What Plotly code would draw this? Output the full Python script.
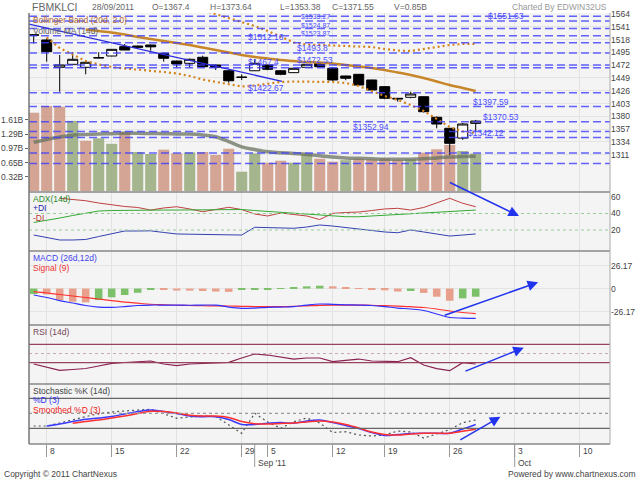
import plotly.graph_objects as go

# ---------------- data ----------------
days = list(range(35))
opens = [1526.5, 1517.3, 1468.2, 1473.6, 1468.2, 1485.0, 1488.5, 1505.3, 1506.5, 1508.3,
         1493.4, 1479.5, 1475.4, 1486.2, 1472.4, 1462.0, 1450.0, 1462.0, 1472.4, 1462.0,
         1458.6, 1468.2, 1475.4, 1466.4, 1452.6, 1455.6, 1445.4, 1433.4, 1412.5, 1414.3,
         1415.4, 1378.4, 1358.6, 1341.0, 1367.4]
highs = [1527.0, 1520.3, 1490.3, 1495.2, 1481.3, 1495.2, 1501.0, 1510.0, 1507.0, 1509.0,
         1494.0, 1480.0, 1484.0, 1489.0, 1473.0, 1463.0, 1455.6, 1482.6, 1473.0, 1463.0,
         1467.0, 1474.0, 1476.0, 1468.0, 1453.0, 1456.0, 1446.0, 1434.0, 1413.0, 1424.4,
         1416.0, 1380.0, 1359.0, 1368.0, 1373.64]
lows = [1511.0, 1478.3, 1424.4, 1473.0, 1455.6, 1484.5, 1488.0, 1499.0, 1503.5, 1498.0,
        1478.3, 1468.2, 1468.2, 1468.0, 1463.4, 1440.5, 1445.4, 1461.5, 1463.0, 1454.0,
        1458.0, 1467.5, 1469.0, 1444.0, 1445.0, 1435.0, 1424.4, 1411.0, 1406.4, 1412.5,
        1387.0, 1358.6, 1310.6, 1338.0, 1353.38]
closes = [1526.0, 1496.3, 1472.4, 1482.6, 1477.2, 1485.5, 1500.5, 1499.3, 1504.2, 1505.0,
          1484.4, 1474.2, 1482.6, 1469.3, 1468.2, 1444.0, 1450.5, 1475.4, 1464.6, 1455.6,
          1466.4, 1473.6, 1469.3, 1445.4, 1448.5, 1436.4, 1427.4, 1412.5, 1411.5, 1420.2,
          1388.4, 1366.3, 1331.6, 1366.3, 1371.55]
volume_b = [1.775, 1.93, 1.91, 1.59, 1.14, 1.195, 1.07, 1.34, 0.884, 0.839,
            0.937, 0.855, 0.877, 0.884, 0.816, 0.959, 0.438, 0.855, 0.642, 0.687,
            0.642, 0.839, 0.732, 0.665, 0.70, 0.73, 0.72, 0.74, 0.71, 0.72,
            0.869, 0.946, 1.043, 0.907, 0.85]
vol_ma_b = [1.104, 1.168, 1.224, 1.263, 1.281, 1.293, 1.299, 1.308, 1.308, 1.304,
            1.299, 1.293, 1.29, 1.27, 1.23, 1.12, 1.0, 0.94, 0.89, 0.87,
            0.85, 0.83, 0.80, 0.77, 0.75, 0.74, 0.73, 0.72, 0.72, 0.72,
            0.73, 0.75, 0.77, 0.78, 0.79]

bb_mid_days = list(range(4, 35))
bb_mid = [1536.1, 1533.5, 1530.8, 1527.2, 1522.7, 1519.1, 1515.5, 1511.9, 1508.3, 1503.8,
          1499.3, 1494.8, 1490.3, 1486.7, 1484.0, 1481.3, 1479.5, 1477.7, 1476.8, 1475.0,
          1472.4, 1469.7, 1467.0, 1463.4, 1458.9, 1454.4, 1449.0, 1442.7, 1436.4, 1431.0, 1425.6]
bb_up_days = list(range(12, 35))
bb_up = [1578.0, 1571.0, 1564.0, 1557.7, 1550.5, 1542.4, 1533.5, 1522.7, 1512.8, 1509.2,
         1508.3, 1508.3, 1507.4, 1506.5, 1504.7, 1501.1, 1498.4, 1497.5, 1501.1, 1505.6,
         1508.3, 1510.1, 1510.1]
bb_lo_days = list(range(1, 35))
bb_lo = [1521.8, 1502.9, 1491.2, 1479.5, 1473.3, 1468.8, 1466.1, 1464.3, 1462.5, 1459.8,
         1457.1, 1452.6, 1446.3, 1441.8, 1437.3, 1433.7, 1435.5, 1439.1, 1441.8, 1442.7,
         1442.7, 1442.7, 1441.8, 1440.0, 1434.6, 1425.6, 1416.6, 1409.5, 1400.5, 1389.7,
         1375.3, 1360.9, 1352.8, 1350.2]

adx = [29.1, 31.5, 34.5, 37.6, 40.6, 43.0, 43.6, 43.9, 44.0, 44.1, 44.2, 44.2, 44.3, 44.4,
       44.6, 44.7, 44.8, 43.6, 42.4, 41.2, 40.2, 39.4, 37.6, 36.6, 36.1, 36.1, 37.0, 37.6,
       38.8, 39.4, 40.0, 41.2, 42.4, 43.3, 44.2]
plus_di = [13.9, 10.9, 7.9, 7.9, 8.5, 12.1, 15.8, 18.8, 18.8, 19.0, 17.0, 15.2, 14.9, 14.5,
           14.3, 13.9, 13.9, 23.3, 23.0, 22.4, 22.1, 23.6, 26.1, 24.8, 23.0, 21.2, 19.4, 17.6,
           16.7, 20.0, 17.6, 15.2, 12.7, 13.9, 15.2]
minus_di_days = list(range(2, 35))
minus_di = [58.4, 57.0, 55.5, 52.7, 50.3, 48.5, 47.3, 44.2, 46.7, 48.2, 45.5, 42.2, 44.8,
            47.5, 44.8, 39.4, 37.0, 40.6, 38.8, 37.0, 32.7, 40.2, 41.2, 41.8, 43.6, 45.5,
            46.3, 44.2, 47.3, 52.7, 58.4, 52.4, 48.2]

macd_line = [-7.4, -10.2, -13.7, -16.5, -19.3, -21.1, -21.4, -20.5, -19.3, -18.8, -18.8, -18.8,
             -19.0, -18.8, -18.9, -21.1, -22.5, -22.2, -21.4, -21.1, -20.5, -18.8, -17.6, -18.0,
             -18.5, -18.8, -19.3, -20.5, -22.2, -23.3, -25.0, -29.0, -33.0, -33.6, -33.9]
macd_signal = [-3.6, -5.1, -6.8, -8.5, -10.2, -11.9, -13.7, -15.4, -16.7, -17.9, -18.5, -19.0,
               -19.3, -19.6, -19.8, -19.9, -20.3, -20.5, -20.6, -20.6, -20.3, -19.7, -19.1, -18.8,
               -18.8, -18.8, -19.0, -19.5, -20.1, -20.7, -21.6, -23.3, -25.6, -27.3, -28.5]
macd_hist = [-6.3, -6.6, -13.1, -15.0, -15.7, -13.1, -10.0, -7.4, -4.8, -1.5, -1.7, -2.3,
             -2.4, -2.8, -3.4, -3.8, -1.5, -1.0, -0.6, -0.4, 1.2, 2.5, 3.2, 2.5, 1.3, 0.6,
             -1.0, -2.0, -3.4, -2.8, -5.0, -9.3, -13.9, -11.2, -9.3]

rsi = [27.2, 20.6, 13.5, 15.2, 17.4, 22.8, 28.7, 30.4, 32.0, 33.7, 27.2, 23.5, 27.2, 28.7,
       29.8, 30.9, 40.2, 48.9, 46.7, 42.4, 38.0, 40.2, 40.2, 32.2, 34.8, 38.0, 33.7, 32.2,
       32.2, 40.9, 25.0, 17.0, 12.6, 30.0, 27.2]

stoch_k = [24.6, 24.6, 30.6, 36.6, 43.6, 49.6, 52.6, 55.2, 56.6, 58.0, 48.6, 40.0, 42.6, 44.6,
           43.6, 26.6, 10.0, 50.0, 32.6, 20.0, 33.2, 40.6, 30.6, 11.6, 13.2, 6.6, 4.6, 6.6,
           14.6, 12.6, 0.6, 8.6, 17.6, 31.2, 36.6]
stoch_d_days = list(range(1, 35))
stoch_d = [24.6, 28.6, 33.6, 38.0, 40.6, 43.6, 48.6, 53.6, 56.6, 53.6, 49.6, 44.6, 43.2, 43.2,
           37.6, 27.6, 27.6, 30.0, 31.6, 30.0, 34.6, 36.6, 31.6, 25.6, 19.6, 11.6, 5.6, 7.6,
           9.6, 10.0, 10.0, 10.0, 18.6, 27.6]
stoch_sd_days = list(range(3, 35))
stoch_sd = [30.0, 33.6, 36.6, 40.6, 44.6, 49.6, 54.0, 53.6, 50.6, 46.2, 44.6, 44.6, 41.6, 33.6,
            29.2, 28.6, 29.6, 30.6, 32.6, 34.6, 32.6, 27.6, 20.6, 12.6, 7.6, 6.6, 8.6, 10.0,
            10.0, 10.0, 14.0, 18.0]

tick_pos = [1, 6, 11, 16, 18, 23, 27, 32, 37, 42]
tick_text = ["8", "15", "22", "29", "5", "12", "19", "26", "3", "10"]
month_pos = [17, 37]
month_text = ["Sep '11", "Oct"]

price_ticks = [1311, 1334, 1357, 1380, 1403, 1426, 1449, 1472, 1495, 1518, 1541, 1564]
vol_ticks = [0.322, 0.644, 0.966, 1.288, 1.61]
vol_tick_text = ["0.32B", "0.65B", "0.97B", "1.29B", "1.61B"]
adx_ticks = [20, 40, 60]
macd_ticks = [-26.17, 0, 26.17]
macd_tick_text = ["-26.17", "0", "26.17"]

levels = [1560.0, 1551.63, 1538.0, 1524.87, 1512.16, 1493.8, 1472.53, 1467.4, 1422.67,
          1397.59, 1370.53, 1352.94, 1342.12, 1314.0, 1295.5]
level_labels = ["$1551.63", "$1533.27", "$1524.87", "$1523.87", "$1512.16", "$1493.8",
                "$1472.53", "$1467.4", "$1422.67", "$1397.59", "$1370.53", "$1352.94", "$1342.12"]
level_label_x = [34.9, 20.5, 20.5, 20.5, 16.4, 20.2, 20.2, 16.4, 16.4, 33.7, 34.5, 24.5, 33.3]
level_label_y = [1560.4, 1559.5, 1544.2, 1529.0, 1522.1, 1502.4, 1481.3, 1478.3, 1430.5,
                 1406.4, 1378.9, 1361.5, 1350.7]
level_label_size = [8.5, 7, 7, 7, 8.5, 8.5, 8.5, 8.5, 8.5, 8.5, 8.5, 8.5, 8.5]

# user drawn trend line and arrows (start / end in data units)
trend_x = [-0.36, 19.1]
trend_y = [1546.0, 1443.0]
arrows = [  # head x, head y, tail x, tail y, axis
    (37.33, 37.0, 31.9, 78.5, "y3"),
    (38.8, 7.1, 31.5, -31.0, "y4"),
    (37.7, 62.6, 33.1, 10.4, "y5"),
    (35.9, 43.2, 32.7, -4.8, "y6"),
]

# ---------------- layout geometry ----------------
W, H = 640, 480
L, R, T, B = 29, 30, 13, 36
PW, PH = W - L - R, H - T - B
def px_x(px):
    return (px - L) / PW
def px_y(py):
    return (H - B - py) / PH

d_main = px_y(192)
d_adx = px_y(251)
d_macd = px_y(325)
d_rsi = px_y(384)

FONT = "Liberation Sans, Arial, sans-serif"
BROWN = "rgba(206,150,130,0.85)"
GREEN = "rgba(150,170,125,0.85)"

fig = go.Figure()

# volume
vol_colors = [BROWN] + [GREEN if closes[i] > closes[i - 1] else BROWN for i in range(1, len(closes))]
fig.add_trace(go.Bar(x=days, y=volume_b, marker=dict(color=vol_colors, line=dict(width=0)),
                     width=0.85, xaxis="x", yaxis="y"))
fig.add_trace(go.Scatter(x=days, y=vol_ma_b, mode="lines", line=dict(color="rgba(105,115,95,0.75)", width=3.5, shape="spline"),
                         xaxis="x", yaxis="y"))

# bollinger
fig.add_trace(go.Scatter(x=bb_up_days, y=bb_up, mode="lines", line=dict(color="#d4841c", width=2.2, dash="2px,3px"),
                         xaxis="x", yaxis="y2"))
fig.add_trace(go.Scatter(x=bb_lo_days, y=bb_lo, mode="lines", line=dict(color="#d4841c", width=2.2, dash="2px,3px"),
                         xaxis="x", yaxis="y2"))
fig.add_trace(go.Scatter(x=bb_mid_days, y=bb_mid, mode="lines", line=dict(color="#c8862a", width=2.5, shape="spline"),
                         xaxis="x", yaxis="y2"))

# candles
fig.add_trace(go.Candlestick(x=days, open=opens, high=highs, low=lows, close=closes,
                             increasing=dict(line=dict(color="black", width=1), fillcolor="white"),
                             decreasing=dict(line=dict(color="black", width=1), fillcolor="black"),
                             whiskerwidth=0, xaxis="x", yaxis="y2"))

# ADX panel
fig.add_trace(go.Scatter(x=minus_di_days, y=minus_di, mode="lines", line=dict(color="#c04040", width=1), xaxis="x", yaxis="y3"))
fig.add_trace(go.Scatter(x=days, y=adx, mode="lines", line=dict(color="#33aa33", width=1), xaxis="x", yaxis="y3"))
fig.add_trace(go.Scatter(x=days, y=plus_di, mode="lines", line=dict(color="#3340b0", width=1), xaxis="x", yaxis="y3"))

# MACD panel
hist_colors = ["#7cc06a"] + ["#7cc06a" if macd_hist[i] > macd_hist[i - 1] else "#e8a08c" for i in range(1, len(macd_hist))]
fig.add_trace(go.Bar(x=days, y=macd_hist, marker=dict(color=hist_colors, line=dict(width=0)), width=0.58,
                     xaxis="x", yaxis="y4"))
fig.add_trace(go.Scatter(x=days, y=macd_signal, mode="lines", line=dict(color="#ff3030", width=1.2, shape="spline"), xaxis="x", yaxis="y4"))
fig.add_trace(go.Scatter(x=days, y=macd_line, mode="lines", line=dict(color="#3030ff", width=1.2, shape="spline"), xaxis="x", yaxis="y4"))

# RSI panel
fig.add_trace(go.Scatter(x=days, y=rsi, mode="lines", line=dict(color="#8a2050", width=1.2), xaxis="x", yaxis="y5"))

# Stochastic panel
fig.add_trace(go.Scatter(x=days, y=stoch_k, mode="lines", line=dict(color="#555555", width=1.2, dash="2px,3px"), xaxis="x", yaxis="y6"))
fig.add_trace(go.Scatter(x=stoch_d_days, y=stoch_d, mode="lines", line=dict(color="#3a3aff", width=1.5, shape="spline"), xaxis="x", yaxis="y6"))
fig.add_trace(go.Scatter(x=stoch_sd_days, y=stoch_sd, mode="lines", line=dict(color="#ff3030", width=1.5, shape="spline"), xaxis="x", yaxis="y6"))

# ---------------- shapes ----------------
shapes = []
for lv in levels:
    shapes.append(dict(type="line", xref="paper", x0=0, x1=1, yref="y2", y0=lv, y1=lv, layer="above",
                       line=dict(color="rgba(60,60,255,0.8)", width=1.5, dash="8px,4px")))
shapes.append(dict(type="line", xref="x", yref="y2", x0=trend_x[0], x1=trend_x[1], y0=trend_y[0], y1=trend_y[1],
                   layer="above", line=dict(color="#2b2bdd", width=1.3)))
# indicator level lines
for v, c, d in [(40, "#9ccc9c", "dot"), (20, "#9ccc9c", "dot")]:
    shapes.append(dict(type="line", xref="paper", x0=0, x1=1, yref="y3", y0=v, y1=v, line=dict(color=c, width=1.2, dash=d)))
for v, c, d in [(70, "#99445f", "solid"), (50, "#c8a8b4", "dot"), (30, "#99445f", "solid")]:
    shapes.append(dict(type="line", xref="paper", x0=0, x1=1, yref="y5", y0=v, y1=v, line=dict(color=c, width=1.2, dash=d)))
for v, c, d in [(80, "#666666", "solid"), (50, "#999999", "dot"), (20, "#666666", "solid")]:
    shapes.append(dict(type="line", xref="paper", x0=0, x1=1, yref="y6", y0=v, y1=v, line=dict(color=c, width=1.2, dash=d)))
# panel separators and borders
for yy in [d_main, d_adx, d_macd, d_rsi, 0]:
    shapes.append(dict(type="line", xref="paper", yref="paper", x0=0, x1=1, y0=yy, y1=yy, layer="above",
                       line=dict(color="#888888", width=1.5)))
shapes.append(dict(type="line", xref="paper", yref="paper", x0=0, x1=0, y0=0, y1=1, layer="above",
                   line=dict(color="#777777", width=1.5)))
shapes.append(dict(type="line", xref="paper", yref="paper", x0=1, x1=1, y0=0, y1=1, layer="above",
                   line=dict(color="#aaaaaa", width=1)))
# month ticks
for mp in month_pos:
    shapes.append(dict(type="line", xref="x", yref="paper", x0=mp, x1=mp, y0=0, y1=px_y(467),
                       line=dict(color="#999999", width=1)))

# ---------------- annotations ----------------
ann = []
def txt(px, py, s, color="#555555", size=8.5, anchor="left"):
    ann.append(dict(x=px_x(px), y=px_y(py), xref="paper", yref="paper", text=s, showarrow=False,
                    xanchor=anchor, yanchor="middle", font=dict(family=FONT, size=size, color=color)))

txt(30, 7, "FBMKLCI", "#666666", 10.5)
txt(90, 7, "28/09/2011", "#666666")
txt(150, 7, "O=1367.4", "#666666")
txt(208, 7, "H=1373.64", "#666666")
txt(278, 7, "L=1353.38", "#666666")
txt(330, 7, "C=1371.55", "#666666")
txt(392, 7, "V=0.85B", "#666666")
txt(609, 7, "Charted By EDWIN32US", "#999999", 8.5, "right")

txt(31, 20, "Bollinger Band (20d, 2.0)", "#b06a30")
txt(31, 30.5, "Volume MA (14d)", "#666666")
txt(31, 199, "ADX(14d)", "#2a8a2a")
txt(31, 208.5, "+DI", "#2222aa")
txt(31, 217.5, "-DI", "#bb3333")
txt(31, 258, "MACD (26d,12d)", "#4444ee")
txt(31, 268, "Signal (9)", "#ee3333")
txt(31, 332, "RSI (14d)", "#774455")
txt(31, 391, "Stochastic %K (14d)", "#444444")
txt(31, 400, "%D (3)", "#3333ee")
txt(31, 410, "Smoothed %D (3)", "#ee2222")

txt(2, 474, "Copyright \u00a9 2011 ChartNexus", "#444444")
txt(638, 474, "Powered by www.chartnexus.com", "#444444", 8.5, "right")

for s, lx, ly, fs in zip(level_labels, level_label_x, level_label_y, level_label_size):
    ann.append(dict(x=lx, y=ly, xref="x", yref="y2", text=s, showarrow=False, xanchor="left", yanchor="middle",
                    borderpad=0, font=dict(family=FONT, size=fs, color="#4d4dff")))

for tp, tt in zip(tick_pos, tick_text):
    ann.append(dict(x=tp, y=px_y(451), xref="x", yref="paper", text=tt, showarrow=False, xanchor="left",
                    yanchor="middle", xshift=1, font=dict(family=FONT, size=8.5, color="#444444")))
for mp, mt in zip(month_pos, month_text):
    ann.append(dict(x=mp, y=px_y(463), xref="x", yref="paper", text=mt, showarrow=False, xanchor="left",
                    yanchor="middle", xshift=1, font=dict(family=FONT, size=8.5, color="#444444")))

for hx, hy, tx, ty, ax_name in arrows:
    ann.append(dict(x=hx, y=hy, xref="x", yref=ax_name, ax=tx, ay=ty, axref="x", ayref=ax_name, text="",
                    showarrow=True, arrowhead=2, arrowsize=1.4, arrowwidth=1.5, arrowcolor="#2233ee"))

tickfont = dict(family=FONT, size=8.5, color="#444444")
fig.update_layout(
    template="none",
    width=W, height=H, autosize=False,
    margin=dict(l=L, r=R, t=T, b=B, pad=0),
    paper_bgcolor="white", plot_bgcolor="#f4f4f4",
    showlegend=False, barmode="overlay", boxgap=0.23, boxgroupgap=0,
    font=dict(family=FONT, size=8.5, color="#444444"),
    xaxis=dict(range=[-0.3615, 44.33], tickvals=tick_pos, ticks="outside", ticklen=12, tickcolor="#999999",
               showticklabels=False, showgrid=True, gridcolor="#e2e2e2", gridwidth=1, zeroline=False,
               showline=False, anchor="y6", rangeslider=dict(visible=False), automargin=False, fixedrange=True),
    yaxis=dict(domain=[d_main, 1], range=[-0.0227, 4.036], side="left", anchor="x", tickvals=vol_ticks,
               ticktext=vol_tick_text, ticks="outside", ticklen=3, tickcolor="#666666", tickfont=tickfont,
               showgrid=False, zeroline=False, showline=False, automargin=False),
    yaxis2=dict(overlaying="y", side="right", anchor="x", range=[1244.1, 1565.8], tickvals=price_ticks,
                ticks="", tickfont=tickfont, showgrid=True, gridcolor="#e4e4e4", zeroline=False,
                showline=False, automargin=False),
    yaxis3=dict(domain=[d_adx, d_main], side="right", anchor="x", range=[-5.45, 66.06], tickvals=adx_ticks,
                ticks="", tickfont=tickfont, showgrid=False, zeroline=False, showline=False, automargin=False),
    yaxis4=dict(domain=[d_macd, d_adx], side="right", anchor="x", range=[-41.5, 42.7], tickvals=macd_ticks,
                ticktext=macd_tick_text, ticks="", tickfont=tickfont, showgrid=True, gridcolor="#e4e4e4",
                zeroline=False, showline=False, automargin=False),
    yaxis5=dict(domain=[d_rsi, d_macd], side="right", anchor="x", range=[-16.3, 112.0], showticklabels=False,
                ticks="", showgrid=False, zeroline=False, showline=False, automargin=False),
    yaxis6=dict(domain=[0, d_rsi], side="right", anchor="x", range=[-11.4, 108.6], showticklabels=False,
                ticks="", showgrid=False, zeroline=False, showline=False, automargin=False),
    shapes=shapes,
    annotations=ann,
)

fig.write_html("out.html", config={"displayModeBar": False},
               post_script="document.body.style.margin='0px';document.body.style.padding='0px';")
